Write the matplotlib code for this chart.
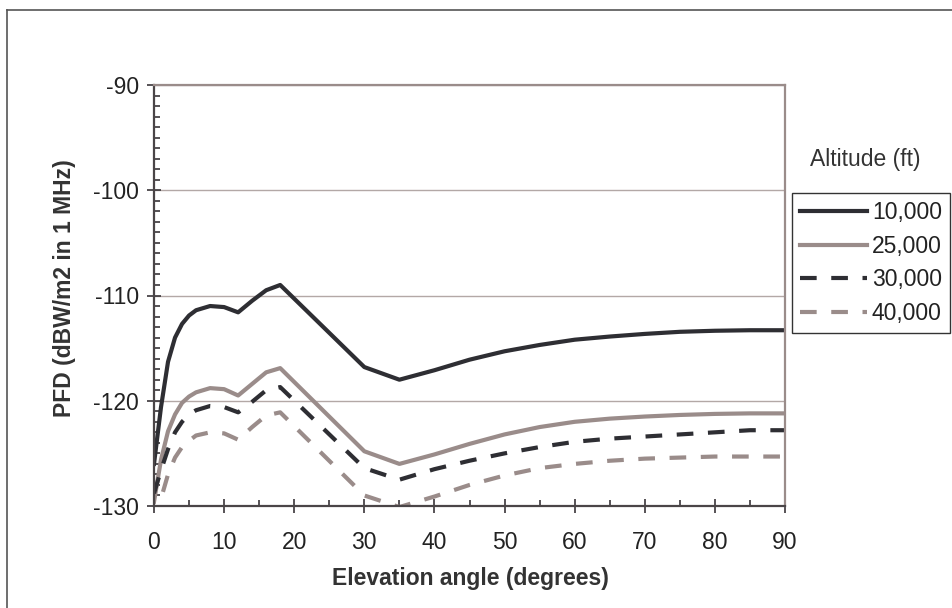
import matplotlib
matplotlib.use("Agg")
import matplotlib.pyplot as plt
from matplotlib.lines import Line2D
from matplotlib.ticker import MultipleLocator

plt.rcParams['font.family'] = ['Liberation Sans', 'DejaVu Sans']
plt.rcParams['axes.unicode_minus'] = False

# elevation angles (degrees)
angle = [0, 1, 2, 3, 4, 5, 6, 8, 10, 12, 14, 16, 18, 30, 35,
         40, 45, 50, 55, 60, 65, 70, 75, 80, 85, 90]

# PFD (dBW/m2 in 1 MHz) per altitude
pfd_10k = [-126.0, -120.6, -116.3, -114.0, -112.7, -111.9, -111.4, -111.0, -111.1, -111.6,
           -110.5, -109.5, -109.0, -116.8, -118.0,
           -117.1, -116.1, -115.3, -114.7, -114.2, -113.9, -113.65, -113.45, -113.35, -113.3, -113.3]
pfd_25k = [-129.6, -125.6, -122.9, -121.3, -120.2, -119.6, -119.2, -118.8, -118.9, -119.5,
           -118.4, -117.3, -116.9, -124.8, -126.0,
           -125.1, -124.1, -123.2, -122.5, -122.0, -121.7, -121.5, -121.35, -121.25, -121.2, -121.2]
pfd_30k = [-128.8, -126.6, -124.6, -123.0, -122.0, -121.3, -120.9, -120.5, -120.6, -121.1,
           -120.1, -119.0, -118.7, -126.4, -127.5,
           -126.5, -125.7, -125.0, -124.4, -123.9, -123.6, -123.4, -123.2, -123.0, -122.8, -122.8]
pfd_40k = [-131.5, -129.3, -127.0, -125.4, -124.4, -123.8, -123.3, -123.0, -123.1, -123.7,
           -122.5, -121.4, -121.1, -129.0, -130.1,
           -129.1, -128.0, -127.1, -126.4, -126.0, -125.7, -125.5, -125.4, -125.3, -125.3, -125.3]

labels = ['10,000', '25,000', '30,000', '40,000']

dark = '#2E2E33'
gray = '#9A8C8A'
W, H = 952, 608

fig = plt.figure(figsize=(W / 100, H / 100), dpi=100)
ax = fig.add_axes([154 / W, 1 - 506 / H, 631 / W, 421 / H])

ax.plot(angle, pfd_10k, color=dark, lw=3, label=labels[0])
ax.plot(angle, pfd_25k, color=gray, lw=3, label=labels[1])
ax.plot(angle, pfd_30k, color=dark, lw=3, ls=(0, (4, 3.5)), label=labels[2])
ax.plot(angle, pfd_40k, color=gray, lw=3, ls=(0, (4, 3.5)), label=labels[3])

ax.set_xlim(0, 90)
ax.set_ylim(-130, -90)
ax.xaxis.set_major_locator(MultipleLocator(10))
ax.xaxis.set_minor_locator(MultipleLocator(5))
ax.yaxis.set_major_locator(MultipleLocator(10))
ax.yaxis.set_minor_locator(MultipleLocator(1))

ax.grid(axis='y', which='major', color='#B3A8A6', lw=1)
ax.set_axisbelow(True)

for s in ['left', 'bottom']:
    ax.spines[s].set_color('#4A4547')
    ax.spines[s].set_linewidth(1.6)
for s in ['top', 'right']:
    ax.spines[s].set_color(gray)
    ax.spines[s].set_linewidth(1.6)

ax.tick_params(which='major', direction='inout', length=10, width=1.2,
               color='#3A3538', labelsize=16.5, labelcolor='#222222', pad=6)
ax.tick_params(which='minor', direction='in', length=4, width=1.2, color='#3A3538')
ax.tick_params(axis='x', which='major', pad=13)

fig.text(470 / W, 1 - 578 / H, 'Elevation angle (degrees)', fontsize=16.5,
         fontweight='bold', color='#333333', ha='center', va='center')
fig.text(65 / W, 1 - 288 / H, 'PFD (dBW/m2 in 1 MHz)', fontsize=16.5,
         fontweight='bold', color='#333333', ha='center', va='center', rotation=90)

leg = ax.legend(loc='upper left', bbox_to_anchor=(791.7 / W, 1 - 193.3 / H),
                bbox_transform=fig.transFigure, borderaxespad=0, fontsize=16.5,
                frameon=True, fancybox=False, edgecolor='#333333', framealpha=1,
                handlelength=2.95, handletextpad=0.2, labelspacing=0.46,
                borderpad=0.35)
leg.get_frame().set_linewidth(1)
for t in leg.get_texts():
    t.set_color('#222222')
fig.text(865 / W, 1 - 160 / H, 'Altitude (ft)', fontsize=16.5, color='#333333',
         ha='center', va='center')

# outer frame (top and left edges visible)
fig.add_artist(Line2D([7 / W, 7 / W], [0, 1 - 10 / H], color='#555555', lw=1.2,
                      transform=fig.transFigure))
fig.add_artist(Line2D([7 / W, 1], [1 - 10 / H, 1 - 10 / H], color='#555555', lw=1.2,
                      transform=fig.transFigure))

fig.savefig('out.png', dpi=100)
